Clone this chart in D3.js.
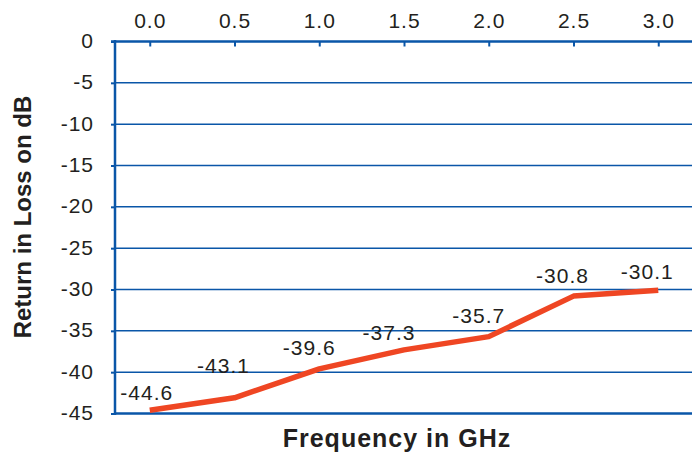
<!DOCTYPE html>
<html>
<head>
<meta charset="utf-8">
<script src="https://cdn.jsdelivr.net/npm/d3@7"></script>
<style>
  html, body { margin: 0; padding: 0; background: #fff; }
  svg { display: block; }
  text { font-family: "Liberation Sans", Arial, Helvetica, sans-serif; fill: #231f20; }
</style>
</head>
<body>
<svg id="chart" width="692" height="452"></svg>
<script>
const frequencies = [0.0, 0.5, 1.0, 1.5, 2.0, 2.5, 3.0];
const returnLoss = [-44.6, -43.1, -39.6, -37.3, -35.7, -30.8, -30.1];
const xTickLabels = ["0.0", "0.5", "1.0", "1.5", "2.0", "2.5", "3.0"];
const yTicks = [0, -5, -10, -15, -20, -25, -30, -35, -40, -45];
const xTitle = "Frequency in GHz";
const yTitle = "Return in Loss on dB";

// label nudges (layout only)
const labelDx = [-3, -11, -10, -15, -10, -11, -11];
const labelDy = [-10, -25, -14, -10, -14, -13, -11];

const svg = d3.select("#chart");
const margin = { left: 115, right: -1, top: 41.5, bottom: 38.5 };
const W = 692, H = 452;

const x = d3.scaleLinear()
  .domain([-0.205, 3.205])
  .range([margin.left, W - margin.right]);
const y = d3.scaleLinear()
  .domain([0, -45])
  .range([margin.top, H - margin.bottom]);

const blue = "#0a56a8";
const FONT = "Liberation Sans, Arial, sans-serif";

// gridlines
svg.append("g")
  .selectAll("line")
  .data(yTicks.filter(d => d !== 0 && d !== -45))
  .join("line")
  .attr("x1", margin.left).attr("x2", W)
  .attr("y1", d => y(d)).attr("y2", d => y(d))
  .attr("stroke", blue).attr("stroke-width", 1.5);

// bottom border line
svg.append("line")
  .attr("x1", margin.left).attr("x2", W)
  .attr("y1", y(-45)).attr("y2", y(-45))
  .attr("stroke", blue).attr("stroke-width", 2.5);

// top axis
const xAxis = d3.axisTop(x)
  .tickValues(frequencies)
  .tickFormat((d, i) => xTickLabels[i])
  .tickSizeInner(-5).tickSizeOuter(0).tickPadding(14);
const gx = svg.append("g").attr("transform", `translate(0,${y(0)})`).call(xAxis);
gx.select(".domain").remove();
gx.selectAll(".tick line").attr("stroke", blue).attr("stroke-width", 2);
gx.selectAll(".tick text").attr("font-size", 21).attr("letter-spacing", 1).attr("fill", "#231f20")
  .attr("font-family", FONT);
svg.append("line")
  .attr("x1", margin.left - 4).attr("x2", W)
  .attr("y1", y(0)).attr("y2", y(0))
  .attr("stroke", blue).attr("stroke-width", 2.5);

// left axis
const yAxis = d3.axisLeft(y)
  .tickValues(yTicks)
  .tickFormat(d => d === 0 ? "0" : String(d))
  .tickSizeInner(4).tickSizeOuter(0).tickPadding(17);
const gy = svg.append("g").attr("transform", `translate(${margin.left},0)`).call(yAxis);
gy.select(".domain").remove();
gy.selectAll(".tick line").attr("stroke", blue).attr("stroke-width", 2);
gy.selectAll(".tick text").attr("font-size", 21).attr("letter-spacing", 1).attr("fill", "#231f20")
  .attr("font-family", FONT).attr("dy", "0.28em");
svg.append("line")
  .attr("x1", margin.left).attr("x2", margin.left)
  .attr("y1", y(0) - 1.5).attr("y2", y(-45) + 1.5)
  .attr("stroke", blue).attr("stroke-width", 2.5);

// line
const data = frequencies.map((f, i) => ({ f, v: returnLoss[i], i }));
svg.append("path")
  .datum(data)
  .attr("fill", "none")
  .attr("stroke", "#ef4623")
  .attr("stroke-width", 5.5)
  .attr("stroke-linejoin", "round")
  .attr("d", d3.line().x(d => x(d.f)).y(d => y(d.v)));

// data labels
svg.append("g")
  .selectAll("text")
  .data(data)
  .join("text")
  .attr("x", d => x(d.f) + labelDx[d.i])
  .attr("y", d => y(d.v) + labelDy[d.i])
  .attr("text-anchor", "middle")
  .attr("font-size", 21)
  .attr("letter-spacing", 1)
  .text(d => d.v.toFixed(1));

// axis titles
svg.append("text")
  .attr("x", 397).attr("y", 447)
  .attr("text-anchor", "middle")
  .attr("font-size", 25).attr("font-weight", "bold").attr("letter-spacing", 1)
  .text(xTitle);

svg.append("text")
  .attr("transform", "translate(31,217) rotate(-90)")
  .attr("text-anchor", "middle")
  .attr("font-size", 24).attr("font-weight", "bold")
  .text(yTitle);
</script>
</body>
</html>
